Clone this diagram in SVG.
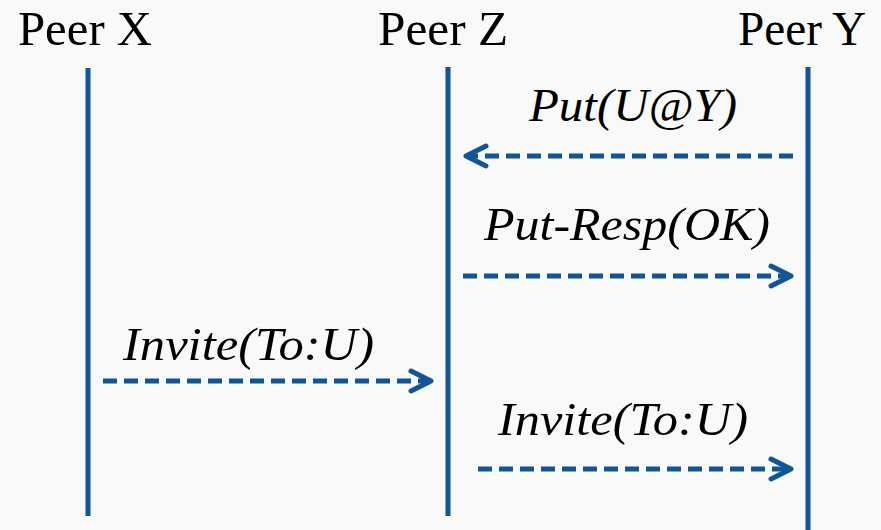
<svg xmlns="http://www.w3.org/2000/svg" width="881" height="530" viewBox="0 0 881 530">
  <style>
    .head { font-family: "Liberation Serif", "Times New Roman", serif; font-size: 48px; fill: #000; }
    .msg { font-family: "Liberation Serif", "Times New Roman", serif; font-style: italic; font-size: 47px; fill: #000; }
    .life { stroke: #115599; stroke-width: 5; fill: none; }
    .call { stroke: #115599; stroke-width: 5; fill: none; stroke-dasharray: 14 7; }
    .head-mark { stroke: #115599; stroke-width: 5; fill: none; stroke-linecap: round; stroke-linejoin: round; }
  </style>
  <rect width="881" height="530" fill="#f9f9f9"/>

  <g id="peer-x">
    <text class="head" x="18" y="45" textLength="134" lengthAdjust="spacingAndGlyphs">Peer X</text>
    <line class="life" x1="88" y1="68" x2="88" y2="516"/>
  </g>
  <g id="peer-z">
    <text class="head" x="378" y="45" textLength="130" lengthAdjust="spacingAndGlyphs">Peer Z</text>
    <line class="life" x1="448" y1="67" x2="448" y2="516"/>
  </g>
  <g id="peer-y">
    <text class="head" x="738" y="45" textLength="128" lengthAdjust="spacingAndGlyphs">Peer Y</text>
    <line class="life" x1="808" y1="67" x2="808" y2="530"/>
  </g>

  <g id="messages">
    <!-- Y to Z: Put -->
    <text class="msg" x="529" y="121" textLength="208" lengthAdjust="spacingAndGlyphs">Put(U@Y)</text>
    <line class="call" x1="793" y1="156" x2="468" y2="156"/>
    <polyline class="head-mark" points="486,146 466,156 486,166"/>

    <!-- Z to Y: Put-Resp -->
    <text class="msg" x="484" y="240" textLength="286" lengthAdjust="spacingAndGlyphs">Put-Resp(OK)</text>
    <line class="call" x1="463" y1="276" x2="788" y2="276"/>
    <polyline class="head-mark" points="771,266 791,276 771,286"/>

    <!-- X to Z: Invite -->
    <text class="msg" x="123" y="360" textLength="251" lengthAdjust="spacingAndGlyphs">Invite(To:U)</text>
    <line class="call" x1="103" y1="381" x2="428" y2="381"/>
    <polyline class="head-mark" points="411,371 431,381 411,391"/>

    <!-- Z to Y: Invite -->
    <text class="msg" x="498" y="435" textLength="250" lengthAdjust="spacingAndGlyphs">Invite(To:U)</text>
    <line class="call" x1="478" y1="469" x2="788" y2="469"/>
    <polyline class="head-mark" points="771,459 791,469 771,479"/>
  </g>
</svg>
